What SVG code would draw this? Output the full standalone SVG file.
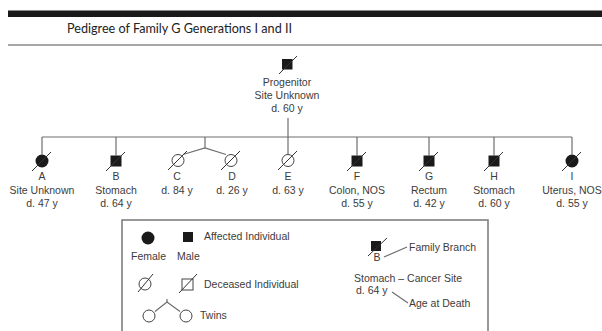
<svg xmlns="http://www.w3.org/2000/svg" width="602" height="331" viewBox="0 0 602 331">
<style>
.t{font-family:"Liberation Sans",Arial,sans-serif;font-size:10.5px;fill:#3c3c3c;text-anchor:middle}
.l{font-family:"Liberation Sans",Arial,sans-serif;font-size:10.5px;fill:#3c3c3c}
.ln{stroke:#6e6e6e;stroke-width:1.2;fill:none}
.sl{stroke:#333;stroke-width:1;fill:none}
.f{fill:#1a1a1a}
.o{fill:#fff;stroke:#444;stroke-width:1}
</style>
<rect x="8" y="10.5" width="594" height="6.5" fill="#1a1a1a"/>
<line x1="8" y1="45" x2="602" y2="45" stroke="#8a8a8a" stroke-width="1.6"/>
<text x="67" y="33" font-family="Lato,'Open Sans',sans-serif" font-size="13.5" fill="#222" textLength="225" lengthAdjust="spacingAndGlyphs">Pedigree of Family G Generations I and II</text>

<g id="connectors" class="ln">
<line x1="42" y1="137" x2="572" y2="137"/>
<line x1="288" y1="118" x2="288" y2="154.5"/>
<line x1="42" y1="137" x2="42" y2="154.5"/>
<line x1="116" y1="137" x2="116" y2="155.5"/>
<line x1="205" y1="137" x2="205" y2="148"/>
<polyline points="183,154.5 205,148 226,154.5"/>
<line x1="357" y1="137" x2="357" y2="155.5"/>
<line x1="429" y1="137" x2="429" y2="155.5"/>
<line x1="494" y1="137" x2="494" y2="155.5"/>
<line x1="572" y1="137" x2="572" y2="154.5"/>
</g>

<g id="progenitor">
<rect class="f" x="282" y="59" width="10.5" height="10.5"/>
<line class="sl" x1="279" y1="74" x2="297" y2="56"/>
<text class="t" x="287" y="86">Progenitor</text>
<text class="t" x="287" y="99">Site Unknown</text>
<text class="t" x="287" y="112">d. 60 y</text>
</g>

<g id="A">
<circle class="f" cx="42" cy="161" r="6.5"/>
<line class="sl" x1="32" y1="171" x2="51" y2="152"/>
<text class="t" x="42" y="180">A</text>
<text class="t" x="42" y="194">Site Unknown</text>
<text class="t" x="42" y="207">d. 47 y</text>
</g>
<g id="B">
<rect class="f" x="110.5" y="155.5" width="11" height="11"/>
<line class="sl" x1="106" y1="171" x2="125" y2="152"/>
<text class="t" x="116" y="180">B</text>
<text class="t" x="116" y="194">Stomach</text>
<text class="t" x="116" y="207">d. 64 y</text>
</g>
<g id="C">
<circle class="o" cx="178" cy="160.5" r="6"/>
<line class="sl" x1="168" y1="170" x2="187" y2="151"/>
<text class="t" x="177" y="180">C</text>
<text class="t" x="177" y="194">d. 84 y</text>
</g>
<g id="D">
<circle class="o" cx="231" cy="160.5" r="6"/>
<line class="sl" x1="221" y1="170" x2="240" y2="151"/>
<text class="t" x="232" y="180">D</text>
<text class="t" x="232" y="194">d. 26 y</text>
</g>
<g id="E">
<circle class="o" cx="288" cy="160.5" r="6"/>
<line class="sl" x1="278" y1="170" x2="297" y2="151"/>
<text class="t" x="288" y="180">E</text>
<text class="t" x="288" y="194">d. 63 y</text>
</g>
<g id="F">
<rect class="f" x="351.5" y="155.5" width="11" height="11"/>
<line class="sl" x1="347" y1="171" x2="366" y2="152"/>
<text class="t" x="357" y="180">F</text>
<text class="t" x="357" y="194">Colon, NOS</text>
<text class="t" x="357" y="207">d. 55 y</text>
</g>
<g id="G">
<rect class="f" x="423.5" y="155.5" width="11" height="11"/>
<line class="sl" x1="419" y1="171" x2="438" y2="152"/>
<text class="t" x="429" y="180">G</text>
<text class="t" x="429" y="194">Rectum</text>
<text class="t" x="429" y="207">d. 42 y</text>
</g>
<g id="H">
<rect class="f" x="488.5" y="155.5" width="11" height="11"/>
<line class="sl" x1="484" y1="171" x2="503" y2="152"/>
<text class="t" x="494" y="180">H</text>
<text class="t" x="494" y="194">Stomach</text>
<text class="t" x="494" y="207">d. 60 y</text>
</g>
<g id="I">
<circle class="f" cx="572" cy="161" r="6.5"/>
<line class="sl" x1="562" y1="171" x2="581" y2="152"/>
<text class="t" x="572" y="180">I</text>
<text class="t" x="572" y="194">Uterus, NOS</text>
<text class="t" x="572" y="207">d. 55 y</text>
</g>

<g id="legend">
<polyline points="122,331 122,220 488,220 488,331" fill="none" stroke="#777" stroke-width="1.5"/>
<circle class="f" cx="148" cy="238" r="6.5"/>
<rect class="f" x="183" y="232" width="10" height="10"/>
<text class="l" x="204" y="240">Affected Individual</text>
<text class="l" x="131" y="260">Female</text>
<text class="l" x="177" y="260">Male</text>
<circle class="o" cx="145" cy="284" r="6"/>
<line class="sl" x1="138" y1="292" x2="153" y2="274"/>
<rect class="o" x="182" y="279" width="11" height="11"/>
<line class="sl" x1="179" y1="293" x2="197" y2="274"/>
<text class="l" x="204" y="288">Deceased Individual</text>
<circle class="o" cx="149" cy="316" r="6"/>
<circle class="o" cx="186" cy="316" r="6"/>
<polyline class="ln" points="155,311.5 167,302 180,311.5"/>
<line class="ln" x1="167" y1="302" x2="167" y2="299"/>
<text class="l" x="200" y="319">Twins</text>
<rect class="f" x="371" y="241" width="10" height="10"/>
<line class="sl" x1="368" y1="256" x2="387" y2="238"/>
<text class="t" x="377" y="261">B</text>
<line class="ln" x1="384" y1="257" x2="407" y2="247"/>
<text class="l" x="409" y="251">Family Branch</text>
<text class="l" x="354" y="282">Stomach – Cancer Site</text>
<text class="l" x="356" y="294">d. 64 y</text>
<line class="ln" x1="392" y1="292" x2="408" y2="303"/>
<text class="l" x="409" y="307">Age at Death</text>
</g>
</svg>
